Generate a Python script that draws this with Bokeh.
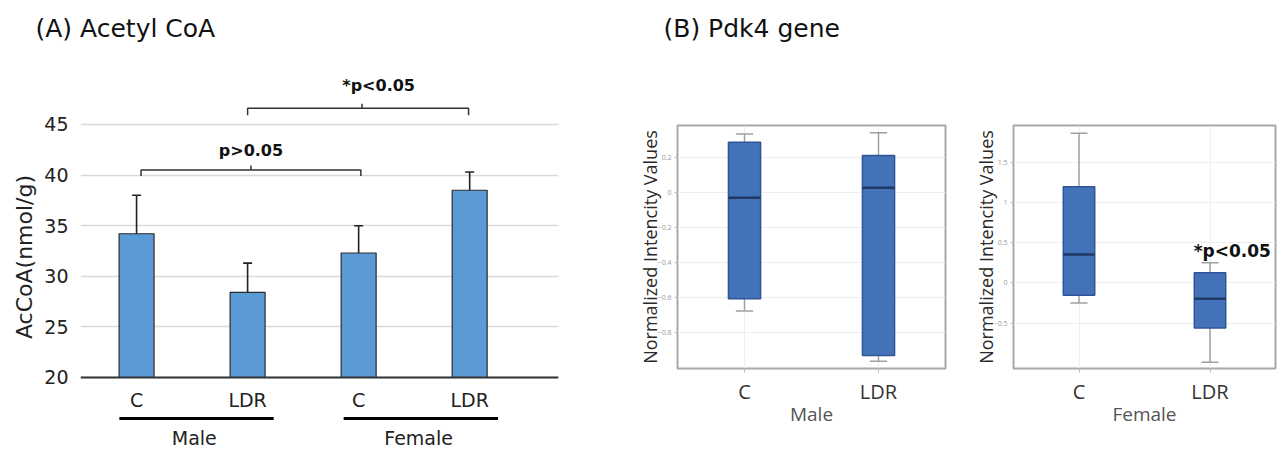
from bokeh.plotting import figure
from bokeh.layouts import row
from bokeh.models import ColumnDataSource, FixedTicker, Whisker, TeeHead, Range1d, Title
from bokeh.core.properties import value
from bokeh.embed import file_html
from bokeh.resources import INLINE

# ---------------- data: panel A (Acetyl CoA) ----------------
groups = ["Male", "Male", "Female", "Female"]
treatments = ["C", "LDR", "C", "LDR"]
acoa_mean = [34.2, 28.4, 32.3, 38.5]
acoa_lower = [30.4, 25.4, 29.5, 36.5]
acoa_upper = [38.0, 31.3, 35.0, 40.3]
acoa_ticks = [20, 25, 30, 35, 40, 45]

# ---------------- data: panel B (Pdk4 gene) ----------------
box_categories = ["C", "LDR"]
male_min = [-0.678, -0.964]
male_q1 = [-0.608, -0.931]
male_median = [-0.030, 0.027]
male_q3 = [0.287, 0.211]
male_max = [0.335, 0.341]
female_min = [-0.25, -0.988]
female_q1 = [-0.154, -0.562]
female_median = [0.355, -0.196]
female_q3 = [1.196, 0.125]
female_max = [1.862, 0.25]
male_ticks = [0.2, 0.0, -0.2, -0.4, -0.6, -0.8]
female_ticks = [1.5, 1.0, 0.5, 0.0, -0.5]

FA = "DejaVu Sans"
FB = "Open Sans"


def add_panel_title(p, text, offset, gap):
    # invisible spacer title next to the frame, real title stacked above it
    p.add_layout(Title(text=" ", text_font_size="1px", standoff=gap), "above")
    p.add_layout(Title(text=text, text_font=FA, text_font_size="25px", text_font_style="normal",
                       text_color="#111111", align="left", offset=offset, standoff=0), "above")


# ---------------- panel A ----------------
xa = [i + 1 for i in range(len(treatments))]
src_a = ColumnDataSource(dict(x=xa, mean=acoa_mean, lower=acoa_lower, upper=acoa_upper))

pa = figure(width=615, height=453, x_range=Range1d(0.495, 4.80), y_range=Range1d(12.49, 51.32),
            output_backend="svg", toolbar_location=None,
            min_border_left=80, min_border_right=57, min_border_top=60, min_border_bottom=0)
pa.frame_align = False
add_panel_title(pa, "(A) Acetyl CoA", -45, 15)
pa.outline_line_color = None
pa.background_fill_color = "white"
pa.xgrid.visible = False
pa.yaxis.ticker = FixedTicker(ticks=acoa_ticks)
pa.ygrid.grid_line_color = "#d9d9d9"
pa.ygrid.grid_line_width = 1.5
pa.yaxis.axis_line_color = None
pa.yaxis.major_tick_line_color = None
pa.yaxis.minor_tick_line_color = None
pa.yaxis.major_label_standoff = 6
pa.yaxis.major_label_text_font = FA
pa.yaxis.major_label_text_font_size = "19px"
pa.yaxis.major_label_text_color = "#222222"
pa.yaxis.axis_label = "AcCoA(nmol/g)"
pa.yaxis.axis_label_text_font = FA
pa.yaxis.axis_label_text_font_size = "22px"
pa.yaxis.axis_label_text_font_style = "normal"
pa.yaxis.axis_label_text_color = "#222222"
pa.yaxis.axis_label_standoff = 4

pa.xaxis.fixed_location = 20
pa.xaxis.ticker = FixedTicker(ticks=xa)
pa.xaxis.major_label_overrides = {x: t for x, t in zip(xa, treatments)}
pa.xaxis.axis_line_color = "#333333"
pa.xaxis.axis_line_width = 2
pa.xaxis.major_tick_line_color = None
pa.xaxis.minor_tick_line_color = None
pa.xaxis.major_label_standoff = 6
pa.xaxis.major_label_text_font = FA
pa.xaxis.major_label_text_font_size = "19px"
pa.xaxis.major_label_text_color = "#222222"

pa.vbar(x="x", top="mean", bottom=20, width=0.315, source=src_a,
        fill_color="#5B9BD5", line_color="#2b2b2b", line_width=1.2)
pa.add_layout(Whisker(source=src_a, base="x", upper="upper", lower="lower",
                      line_color="#222222", line_width=1.6,
                      upper_head=TeeHead(size=9, line_color="#222222", line_width=1.6),
                      lower_head=TeeHead(size=9, line_color="#222222", line_width=1.6)))

# group underlines and labels
group_names = ["Male", "Female"]
group_centers = [(xa[0] + xa[1]) / 2 + 0.04, (xa[2] + xa[3]) / 2 + 0.06]
pa.segment(x0=[c - 0.695 for c in group_centers], x1=[c + 0.695 for c in group_centers],
           y0=[15.95, 15.95], y1=[15.95, 15.95], line_color="black", line_width=3)
pa.text(x=[c - 0.02 for c in group_centers], y=[14.05, 14.05], text=group_names,
        text_font=value(FA), text_font_size="19px", text_color="#222222",
        text_align="center", text_baseline="middle")

# significance brackets
pa.multi_line(xs=[[1.04, 1.04, 3.02, 3.02], [2.03, 2.03], [2.0, 2.0, 3.99, 3.99], [3.03, 3.03]],
              ys=[[39.9, 40.5, 40.5, 39.9], [40.5, 40.95], [45.9, 46.6, 46.6, 45.9], [46.6, 47.05]],
              line_color="#333333", line_width=1.5)
pa.text(x=[2.03, 3.18], y=[42.4, 48.85], text=["p>0.05", "*p<0.05"],
        text_font=value(FA), text_font_size="16px", text_font_style="bold", text_color="#111111",
        text_align="center", text_baseline="middle")


# ---------------- panel B ----------------
def box_panel(width, left, right, ylo, yhi, ticks, qmin, q1, med, q3, qmax, xlabel):
    xs = [i + 0.5 for i in range(len(box_categories))]
    src = ColumnDataSource(dict(x=xs, qmin=qmin, q1=q1, med=med, q3=q3, qmax=qmax,
                                xl=[v - 0.065 for v in xs], xr=[v + 0.065 for v in xs],
                                ml=[v - 0.12 for v in xs], mr=[v + 0.12 for v in xs]))
    p = figure(width=width, height=453, x_range=Range1d(0, 2), y_range=Range1d(ylo, yhi),
               output_backend="svg", toolbar_location=None,
               min_border_left=left, min_border_right=right, min_border_top=125, min_border_bottom=85)
    p.frame_align = False
    p.outline_line_color = "#a8a8a8"
    p.outline_line_width = 2
    p.xgrid.ticker = FixedTicker(ticks=xs)
    p.grid.grid_line_color = "#eeeeee"
    p.grid.grid_line_width = 1
    p.yaxis.ticker = FixedTicker(ticks=ticks)
    p.yaxis.major_label_text_font = FB
    p.yaxis.major_label_text_font_size = "7px"
    p.yaxis.major_label_text_color = "#9a9a9a"
    p.yaxis.major_label_standoff = 3
    p.yaxis.major_tick_out = 3
    p.yaxis.major_tick_in = 0
    p.yaxis.major_tick_line_color = "#bbbbbb"
    p.yaxis.minor_tick_line_color = None
    p.yaxis.axis_line_color = "#a8a8a8"
    p.yaxis.axis_label = "Normalized Intencity Values"
    p.yaxis.axis_label_text_font = FB
    p.yaxis.axis_label_text_font_size = "18px"
    p.yaxis.axis_label_text_font_style = "normal"
    p.yaxis.axis_label_text_color = "#2a2a2a"
    p.yaxis.axis_label_standoff = -7
    p.xaxis.ticker = FixedTicker(ticks=xs)
    p.xaxis.major_label_overrides = {x: t for x, t in zip(xs, box_categories)}
    p.xaxis.major_label_text_font = FB
    p.xaxis.major_label_text_font_size = "20px"
    p.xaxis.major_label_text_color = "#333333"
    p.xaxis.major_tick_out = 4
    p.xaxis.major_tick_in = 0
    p.xaxis.major_tick_line_color = "#bbbbbb"
    p.xaxis.minor_tick_line_color = None
    p.xaxis.axis_line_color = "#a8a8a8"
    p.xaxis.axis_label = xlabel
    p.xaxis.axis_label_text_font = FB
    p.xaxis.axis_label_text_font_size = "19px"
    p.xaxis.axis_label_text_font_style = "normal"
    p.xaxis.axis_label_text_color = "#555555"
    p.xaxis.axis_label_standoff = -7

    p.segment(x0="x", y0="q3", x1="x", y1="qmax", source=src, line_color="#a0a0a0", line_width=1.5)
    p.segment(x0="x", y0="q1", x1="x", y1="qmin", source=src, line_color="#a0a0a0", line_width=1.5)
    p.segment(x0="xl", y0="qmax", x1="xr", y1="qmax", source=src, line_color="#a0a0a0", line_width=1.5)
    p.segment(x0="xl", y0="qmin", x1="xr", y1="qmin", source=src, line_color="#a0a0a0", line_width=1.5)
    p.vbar(x="x", top="q3", bottom="q1", width=0.24, source=src,
           fill_color="#4472B8", line_color="#2F5597", line_width=1.5)
    p.segment(x0="ml", y0="med", x1="mr", y1="med", source=src, line_color="#1F3864", line_width=2.5)
    return p


pb = box_panel(345, 62, 15, -1.006, 0.383, male_ticks,
               male_min, male_q1, male_median, male_q3, male_max, "Male")
add_panel_title(pb, "(B) Pdk4 gene", -14, 80)

pc = box_panel(319, 53, 4, -1.066, 1.96, female_ticks,
               female_min, female_q1, female_median, female_q3, female_max, "Female")
pc.text(x=[1.67], y=[0.40], text=["*p<0.05"], text_font=value(FA), text_font_size="17px",
        text_font_style="bold", text_color="#111111", text_align="center", text_baseline="middle")

layout = row(pa, pb, pc)
open("out.html", "w").write(file_html(layout, INLINE))
